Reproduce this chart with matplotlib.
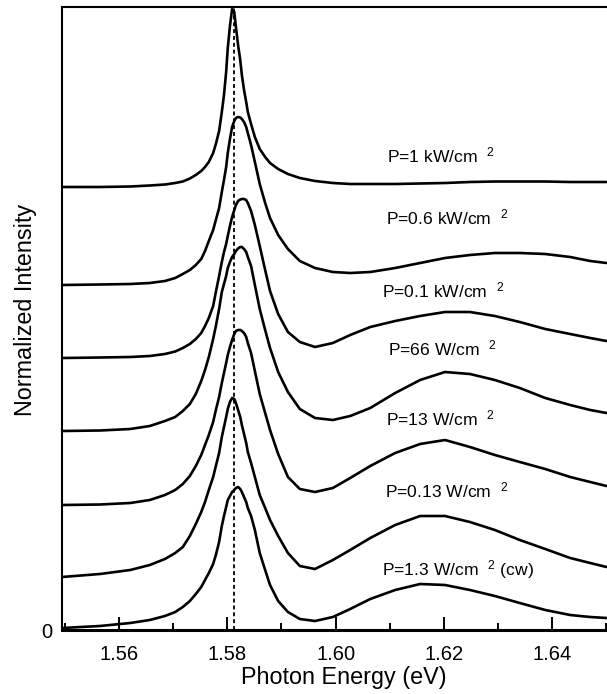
import matplotlib
matplotlib.use('Agg')
import matplotlib.pyplot as plt
from matplotlib.ticker import MultipleLocator

plt.rcParams['font.family'] = ['Liberation Sans', 'DejaVu Sans']
plt.rcParams['mathtext.fontset'] = 'custom'
plt.rcParams['mathtext.rm'] = 'Liberation Sans'

# photon energy grid (eV) shared by all spectra
energy = [1.5495, 1.5565, 1.5621, 1.5657, 1.5685, 1.5704, 1.5718, 1.5731, 1.5742, 1.5752,
          1.5759, 1.5766, 1.5774, 1.5779, 1.5785, 1.5790, 1.5794, 1.5798, 1.5801, 1.5805,
          1.5809, 1.5813, 1.5816, 1.5820, 1.5824, 1.5827, 1.5831, 1.5835, 1.5838, 1.5844,
          1.5851, 1.5860, 1.5870, 1.5879, 1.5894, 1.5912, 1.5934, 1.5962, 1.5995, 1.6027,
          1.6064, 1.6110, 1.6156, 1.6202, 1.6248, 1.6294, 1.6340, 1.6387, 1.6433, 1.6470,
          1.6500]

# normalized intensities (arb. units), already offset for display
p_1kw = [443, 443, 443.5, 444.5, 445.5, 447, 448.5, 451.5, 455, 459,
         463, 468, 477, 486, 499, 518, 535, 558, 582, 604,
         621, 618, 603, 585, 570, 555, 540, 528, 518, 506,
         493, 481, 473, 467, 461, 456, 452, 449, 447, 446,
         446, 446, 446.5, 447, 448, 448.5, 448.5, 448.5, 448, 448,
         448]
p_06kw = [345, 345.5, 346, 347, 349, 352, 356, 360, 365, 371,
          379, 389, 400, 410, 422, 438, 450, 463, 477, 491,
          503, 509, 512, 513, 512.5, 511, 508, 503, 497, 485,
          468, 446, 427, 412, 395, 381, 369, 362, 358, 357,
          358, 362, 367, 372, 375, 377, 377, 376, 373, 369,
          367]
p_01kw = [272, 272.5, 273, 274, 276, 278.5, 282, 286, 291, 297,
          304, 312, 324, 338, 354, 368, 378, 386, 394, 404,
          413, 420, 425, 429, 430.5, 431, 431, 430, 427, 419,
          405, 384, 360, 339, 316, 298, 288, 283, 287, 295,
          303, 309, 314, 318, 318, 314, 308, 301, 296, 292,
          289]
p_66w = [199, 199.5, 201, 204, 209, 213, 219, 226, 236, 249,
         260, 273, 291, 304, 321, 338, 346, 354, 362, 368,
         373, 376, 379, 381.5, 383, 383, 381, 378, 373, 364,
         345, 321, 300, 282, 258, 238, 221, 212, 210, 214,
         222, 237, 250, 258, 256, 250, 242, 232, 225, 220,
         217]
p_13w = [125, 125.5, 127, 130, 135, 140, 146, 154, 164, 175,
         185, 195, 208, 220, 233, 247, 257, 267, 275, 283,
         290, 296, 299, 300, 300, 299, 297, 293, 287, 277,
         259, 236, 217, 200, 176, 153, 141, 138, 142, 152,
         164, 177, 186, 190, 183, 175, 168, 161, 153, 148,
         144]
p_013w = [53, 56, 60, 65, 71, 77, 83, 94, 106, 118,
          128, 140, 153, 164, 177, 193, 203, 213, 221, 228,
          232, 231, 227, 220, 213, 205, 196, 187, 178, 167,
          153, 135, 122, 110, 94, 77, 64, 61, 70, 80,
          92, 105, 114, 114, 108, 100, 90, 81, 72, 67,
          63]
p_13cw = [2, 4, 7, 10, 14, 18, 23, 29, 36, 43,
          50, 57, 66, 75, 88, 104, 114, 123, 130, 134,
          138, 140, 142, 143, 141, 138, 133, 128, 122, 114,
          100, 77, 60, 45, 29, 18, 11, 9, 13, 21,
          31, 40, 46, 45, 40, 34, 27, 20, 15, 13,
          12]

labels = ['P=1 kW/cm', 'P=0.6 kW/cm', 'P=0.1 kW/cm', 'P=66 W/cm',
          'P=13 W/cm', 'P=0.13 W/cm', 'P=1.3 W/cm']
label_suffix = ['', '', '', '', '', '', ' (cw)']
label_x = [1.6094, 1.6093, 1.6085, 1.6096, 1.6093, 1.6091, 1.6085]
label_y = [475, 413, 340, 282, 212, 140, 60]

peak_ref = 1.5812

fig = plt.figure(figsize=(6.07, 6.94), dpi=100)
ax = fig.add_axes([62/607, 64/694, 545/607, 623/694])

for series in [p_1kw, p_06kw, p_01kw, p_66w, p_13w, p_013w, p_13cw]:
    ax.plot(energy, series, color='black', lw=1.9, solid_joinstyle='round',
            solid_capstyle='round')

ax.axvline(peak_ref, color='black', lw=1.3, ls=(0, (2.2, 1.6)))

for txt, suf, x, y in zip(labels, label_suffix, label_x, label_y):
    ax.text(x, y, txt + r'  $\mathregular{^{2}}$' + suf, fontsize=12.6, ha='left', va='center')

ax.set_xlim(1.5495, 1.6501)
ax.set_ylim(0, 623)
ax.xaxis.set_major_locator(MultipleLocator(0.02))
ax.xaxis.set_minor_locator(MultipleLocator(0.01))
ax.set_yticks([0])
ax.tick_params(axis='x', which='major', direction='in', length=9.4, width=1.4,
               labelsize=14.5, pad=11, top=False)
ax.tick_params(axis='x', which='minor', direction='in', length=5, width=1.4, top=False)
ax.tick_params(axis='y', length=0, labelsize=14.5, pad=7)
ax.set_xticklabels(['%.2f' % t for t in ax.get_xticks()])

ax.spines['right'].set_visible(False)
ax.spines['bottom'].set_linewidth(2.2)
ax.spines['left'].set_linewidth(1.5)
ax.spines['top'].set_linewidth(1.5)

ax.set_xlabel('Photon Energy (eV)', fontsize=16.8)
ax.set_ylabel('Normalized Intensity', fontsize=16.8)
ax.xaxis.set_label_coords(0.518, -0.058)
ax.yaxis.set_label_coords(-0.046, 0.514)

fig.savefig('out.png', dpi=100)
